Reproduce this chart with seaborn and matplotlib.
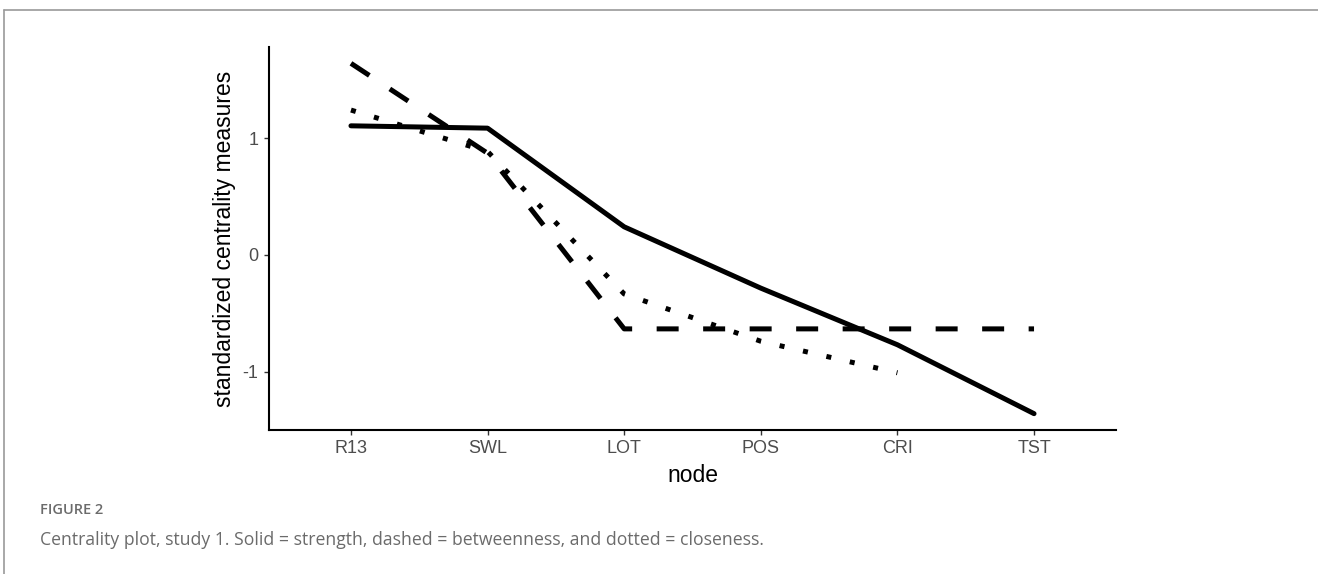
import matplotlib
matplotlib.use("Agg")
import matplotlib.pyplot as plt
import numpy as np
import pandas as pd
import seaborn as sns
from matplotlib.lines import Line2D

# values
nodes = ["R13", "SWL", "LOT", "POS", "CRI", "TST"]
strength = [1.105, 1.085, 0.24, -0.285, -0.77, -1.36]
betweenness = [1.64, 0.87, -0.634, -0.634, -0.634, -0.634]
closeness = [1.24, 0.885, -0.335, -0.74, -1.01, np.nan]

rows = []
for name, vals in [("strength", strength), ("betweenness", betweenness), ("closeness", closeness)]:
    for i, v in enumerate(vals):
        if not np.isnan(v):
            rows.append({"pos": i, "value": v, "measure": name})
df = pd.DataFrame(rows)

sns.set_theme(style="white")
plt.rcParams["font.family"] = ["Liberation Sans", "DejaVu Sans"]

fig = plt.figure(figsize=(13.18, 5.74), dpi=100)
ax = fig.add_axes([269 / 1318, 1 - 430 / 574, (1116 - 269) / 1318, (430 - 47) / 574])

sns.lineplot(
    data=df, x="pos", y="value", style="measure",
    style_order=["strength", "betweenness", "closeness"],
    dashes={"strength": "", "betweenness": (4.4, 4.9), "closeness": (1, 3.8)},
    color="black", linewidth=3.6, legend=False, ax=ax, markers=False,
)

ax.set_xlim(-0.6, 5.6)
ax.set_ylim(-1.50, 1.78)
ax.set_xticks(range(len(nodes)))
ax.set_xticklabels(nodes)
ax.set_yticks([-1, 0, 1])
ax.set_yticklabels(["-1", "0", "1"])
ax.tick_params(axis="both", colors="#333333", labelcolor="#4D4D4D", labelsize=13,
               length=3.5, width=1, pad=4, bottom=True, left=True)
ax.set_xlabel("node", fontsize=16.5, color="black", labelpad=5)
ax.set_ylabel("standardized centrality measures", fontsize=16.5, color="black", labelpad=5)

for side in ["top", "right"]:
    ax.spines[side].set_visible(False)
for side in ["left", "bottom"]:
    ax.spines[side].set_color("black")
    ax.spines[side].set_linewidth(1.5)

# page frame and caption
fig.add_artist(Line2D([4 / 1318, 1], [1 - 10 / 574, 1 - 10 / 574], color="#9a9a9a", lw=1.2))
fig.add_artist(Line2D([4 / 1318, 4 / 1318], [0, 1 - 10 / 574], color="#9a9a9a", lw=1.2))
fig.text(40 / 1318, 1 - 510 / 574, "FIGURE 2", fontsize=10.5, color="#6b6b6b",
         family=["Open Sans", "DejaVu Sans"], weight="semibold", va="center")
fig.text(40 / 1318, 1 - 540 / 574,
         "Centrality plot, study 1. Solid = strength, dashed = betweenness, and dotted = closeness.",
         fontsize=12.7, color="#6b6b6b", family=["Open Sans", "DejaVu Sans"], va="center")

fig.savefig("out.png", dpi=100, facecolor="white")
